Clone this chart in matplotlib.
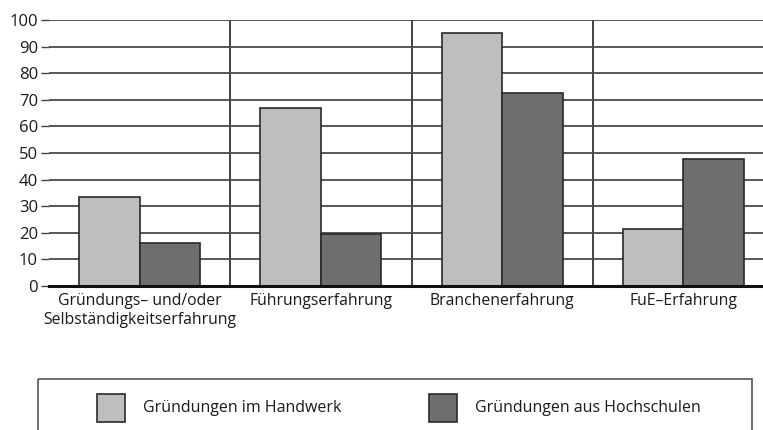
import numpy as np
import matplotlib.pyplot as plt
from matplotlib.patches import Rectangle

plt.rcParams['font.family'] = ['Open Sans', 'DejaVu Sans']

categories = ['Gründungs– und/oder\nSelbständigkeitserfahrung', 'Führungserfahrung',
              'Branchenerfahrung', 'FuE–Erfahrung']
handwerk = [33.3, 66.8, 95.3, 21.5]
hochschulen = [16.2, 19.5, 72.5, 47.6]
series_names = ['Gründungen im Handwerk', 'Gründungen aus Hochschulen']
colors = ['#bdbec0', '#6d6e70']
edge = '#2a2a2a'
text_color = '#1a1a1a'

W, H = 763, 430
fig = plt.figure(figsize=(W / 100, H / 100), dpi=100)
# plot area runs past the right edge of the figure
ax = fig.add_axes([49 / W, 1 - 286 / H, (774 - 49) / W, 266 / H])

x = np.arange(len(categories))
w = 1 / 3
ax.bar(x - w / 2, handwerk, w, color=colors[0], edgecolor=edge, linewidth=1.2, zorder=3)
ax.bar(x + w / 2, hochschulen, w, color=colors[1], edgecolor=edge, linewidth=1.2, zorder=3)

ax.set_xlim(-0.5, len(categories) - 0.5)
ax.set_ylim(0, 100)
ax.set_yticks(range(0, 101, 10))
ax.yaxis.grid(True, color='#4a4a4a', linewidth=1.3, zorder=0)
for b in np.arange(0.5, len(categories) - 0.5):
    ax.axvline(b, color='#222222', linewidth=1.2, zorder=1)

for s in ['left', 'right', 'top']:
    ax.spines[s].set_visible(False)
ax.spines['bottom'].set_linewidth(2.2)
ax.spines['bottom'].set_color('#111111')
ax.spines['bottom'].set_zorder(4)

ax.set_xticks(x)
ax.set_xticklabels(categories, fontsize=11.3, linespacing=1.25, color=text_color)
ax.tick_params(axis='x', length=0, pad=5)
ax.tick_params(axis='y', length=6, width=1, color='#444444', labelsize=12,
               labelcolor=text_color, pad=2)

# legend box
lax = fig.add_axes([0, 0, 1, 1], facecolor='none')
lax.set_xlim(0, W)
lax.set_ylim(H, 0)
lax.axis('off')
lax.add_patch(Rectangle((38, 379), 714, 80, fill=False, edgecolor='#555555', linewidth=1.2))
for px, tx, c, name in [(97, 143, colors[0], series_names[0]),
                        (429, 475, colors[1], series_names[1])]:
    lax.add_patch(Rectangle((px, 394), 28, 28, facecolor=c, edgecolor=edge, linewidth=1.2))
    lax.text(tx, 408, name, fontsize=11.5, va='center', ha='left', color=text_color)

fig.savefig('out.png', dpi=100)
